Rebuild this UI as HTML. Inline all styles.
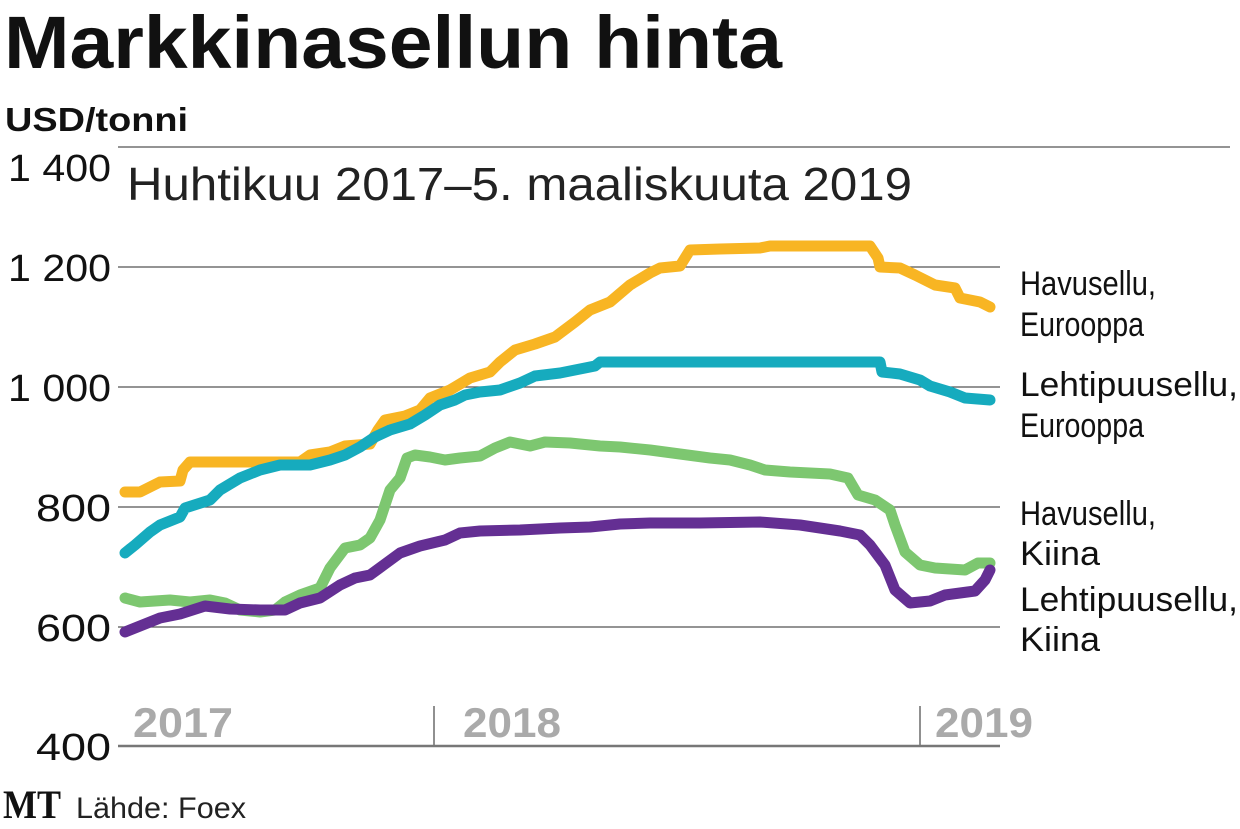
<!DOCTYPE html>
<html><head><meta charset="utf-8"><style>
html,body{margin:0;padding:0;background:#fff;}
svg{display:block;}
</style></head><body>
<svg width="1240" height="829" viewBox="0 0 1240 829" xmlns="http://www.w3.org/2000/svg" font-family="'Liberation Sans Narrow','Liberation Sans',sans-serif">
<text x="4" y="68" font-size="74" font-weight="bold" fill="#111" textLength="778" lengthAdjust="spacingAndGlyphs">Markkinasellun hinta</text>
<text x="5" y="131" font-size="33" font-weight="bold" fill="#111" textLength="183" lengthAdjust="spacingAndGlyphs">USD/tonni</text>
<g stroke="#555" stroke-width="1.3">
<line x1="118" y1="147" x2="1230" y2="147"/>
<line x1="118" y1="267" x2="1000" y2="267"/>
<line x1="118" y1="387" x2="1000" y2="387"/>
<line x1="118" y1="507" x2="1000" y2="507"/>
<line x1="118" y1="627" x2="1000" y2="627"/>
<line x1="434" y1="706" x2="434" y2="746"/>
<line x1="920" y1="706" x2="920" y2="746"/>
</g>
<line x1="118" y1="746" x2="1000" y2="746" stroke="#777" stroke-width="2.5"/>
<g font-size="38" fill="#111">
<text x="8" y="181" textLength="103" lengthAdjust="spacingAndGlyphs">1 400</text>
<text x="8" y="281" textLength="103" lengthAdjust="spacingAndGlyphs">1 200</text>
<text x="8" y="401" textLength="103" lengthAdjust="spacingAndGlyphs">1 000</text>
<text x="36" y="521" textLength="75" lengthAdjust="spacingAndGlyphs">800</text>
<text x="36" y="641" textLength="75" lengthAdjust="spacingAndGlyphs">600</text>
<text x="36" y="760" textLength="75" lengthAdjust="spacingAndGlyphs">400</text>
</g>
<text x="127" y="200" font-size="46" fill="#222" textLength="785" lengthAdjust="spacingAndGlyphs">Huhtikuu 2017–5. maaliskuuta 2019</text>
<g font-size="42" font-weight="bold" fill="#aaa">
<text x="133" y="737" textLength="100" lengthAdjust="spacingAndGlyphs">2017</text>
<text x="463" y="737" textLength="98" lengthAdjust="spacingAndGlyphs">2018</text>
<text x="935" y="737" textLength="98" lengthAdjust="spacingAndGlyphs">2019</text>
</g>
<g fill="none" stroke-width="11" stroke-linejoin="round" stroke-linecap="round">
<polyline stroke="#F8B523" points="125,492 140,492 150,487 160,482 180,481 183,470 190,462 230,462 270,462 300,462 310,455 330,452 345,446 370,444 378,430 385,420 405,416 420,410 430,398 450,390 470,378 490,372 500,362 515,350 535,344 555,337 575,322 590,310 610,302 630,285 650,273 660,268 680,266 690,250 720,249 760,248 770,246 870,246 878,258 880,267 900,268 915,275 935,285 955,288 960,298 980,302 990,307"/>
<polyline stroke="#16ABBE" points="125,553 135,545 150,532 160,525 180,517 185,508 210,500 220,490 240,478 260,470 280,465 310,465 330,460 345,455 360,447 375,437 390,430 410,424 425,415 440,405 455,400 465,395 480,392 500,390 520,383 535,376 560,373 575,370 595,366 600,362 700,362 880,362 882,372 900,374 920,380 930,386 950,392 965,398 990,400"/>
<polyline stroke="#7DC770" points="125,598 140,602 170,600 190,602 210,600 225,603 240,610 260,612 275,610 285,602 300,595 320,588 330,568 345,548 360,545 370,538 380,520 390,490 400,478 407,458 415,455 430,457 445,460 460,458 480,456 495,448 510,442 530,446 545,442 570,443 600,446 620,447 650,450 680,454 710,458 730,460 750,465 765,470 790,472 810,473 830,474 848,478 858,495 875,500 890,510 895,525 905,552 920,565 935,568 965,570 978,563 990,563"/>
<polyline stroke="#642F93" points="125,632 140,626 160,618 180,614 205,606 230,609 260,610 285,610 300,603 320,598 340,585 355,578 370,575 385,564 400,553 420,546 445,540 460,533 480,531 520,530 560,528 590,527 620,524 650,523 700,523 760,522 800,525 840,531 860,535 870,545 885,565 895,590 910,603 930,601 945,595 975,591 985,580 990,570"/>
</g>
<g font-size="34" fill="#111">
<text x="1020" y="295" textLength="136" lengthAdjust="spacingAndGlyphs">Havusellu,</text>
<text x="1020" y="336" textLength="124" lengthAdjust="spacingAndGlyphs">Eurooppa</text>
<text x="1020" y="396" textLength="218" lengthAdjust="spacingAndGlyphs">Lehtipuusellu,</text>
<text x="1020" y="437" textLength="124" lengthAdjust="spacingAndGlyphs">Eurooppa</text>
<text x="1020" y="525" textLength="136" lengthAdjust="spacingAndGlyphs">Havusellu,</text>
<text x="1020" y="565" textLength="80" lengthAdjust="spacingAndGlyphs">Kiina</text>
<text x="1020" y="611" textLength="218" lengthAdjust="spacingAndGlyphs">Lehtipuusellu,</text>
<text x="1020" y="651" textLength="80" lengthAdjust="spacingAndGlyphs">Kiina</text>
</g>
<text x="3" y="818" font-family="'Liberation Serif',serif" font-size="40" font-weight="bold" fill="#111" textLength="58" lengthAdjust="spacingAndGlyphs">MT</text>
<text x="76" y="818" font-size="30" fill="#222" textLength="170" lengthAdjust="spacingAndGlyphs">Lähde: Foex</text>
</svg>
</body></html>
